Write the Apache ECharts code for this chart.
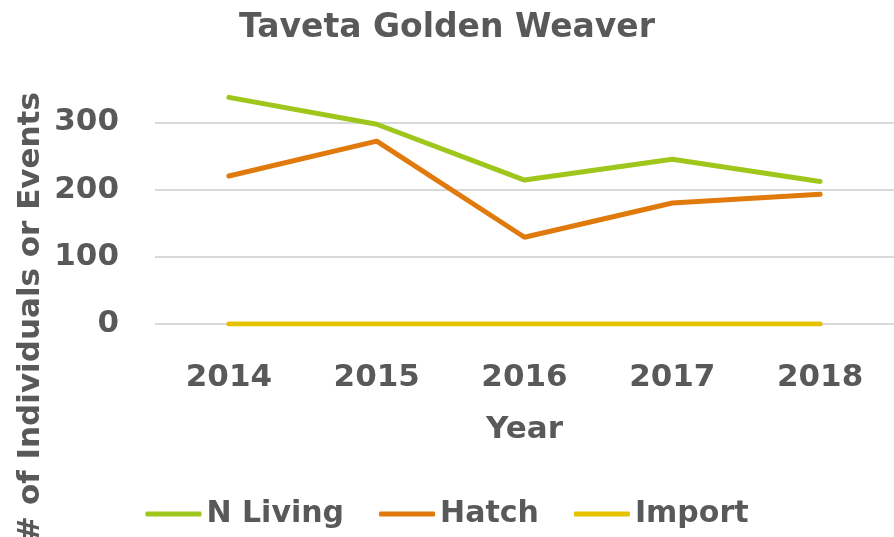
<!DOCTYPE html>
<html>
<head>
<meta charset="utf-8">
<script src="https://cdn.jsdelivr.net/npm/echarts@6/dist/echarts.min.js"></script>
<style>
  html, body { margin: 0; padding: 0; background: #fff; }
  #main { width: 894px; height: 537px; }
</style>
</head>
<body>
<div id="main"></div>
<script>
// data
const years = ["2014", "2015", "2016", "2017", "2018"];
const nLiving = [337, 297, 214, 245, 212];
const hatch = [220, 272, 129, 180, 193];
const importCnt = [0, 0, 0, 0, 0];

const textColor = "#595959";
const font = "DejaVu Sans";

let myChart = echarts.init(document.getElementById("main"));

let option = {
  animation: false,
  color: ["#9fc61b", "#e07a0c", "#e5c100"],
  title: {
    text: "Taveta Golden Weaver",
    left: "center",
    top: 7,
    textStyle: {
      fontFamily: font,
      fontSize: 33,
      fontWeight: "bold",
      color: textColor,
    },
  },
  grid: {
    left: 155,
    top: 55,
    width: 746,
    height: 269,
  },
  legend: {
    left: "center",
    top: 494,
    icon: "roundRect",
    itemWidth: 56,
    itemHeight: 5,
    itemGap: 35,
    textStyle: {
      fontFamily: font,
      fontSize: 30,
      fontWeight: "bold",
      color: textColor,
    },
    data: ["N Living", "Hatch", "Import"],
  },
  // y axis title drawn separately so it can sit lower than the grid middle
  graphic: [
    {
      type: "text",
      x: 31,
      y: 317,
      rotation: Math.PI / 2,
      style: {
        text: "# of Individuals or Events",
        fontFamily: font,
        fontSize: 31,
        fontWeight: "bold",
        fill: textColor,
        align: "center",
        verticalAlign: "middle",
      },
    },
  ],
  xAxis: {
    type: "category",
    data: years,
    boundaryGap: true,
    axisLine: { show: false },
    axisTick: { show: false },
    axisLabel: {
      margin: 38,
      fontFamily: font,
      fontSize: 31,
      fontWeight: "bold",
      color: textColor,
    },
    name: "Year",
    nameLocation: "middle",
    nameGap: 90,
    nameTextStyle: {
      fontFamily: font,
      fontSize: 31,
      fontWeight: "bold",
      color: textColor,
    },
  },
  yAxis: {
    type: "value",
    min: 0,
    max: 400,
    interval: 100,
    axisLine: { show: false },
    axisTick: { show: false },
    axisLabel: {
      showMaxLabel: false,
      margin: 36,
      fontFamily: font,
      fontSize: 31,
      fontWeight: "bold",
      color: textColor,
    },
    splitLine: {
      lineStyle: {
        color: ["#d9d9d9", "#d9d9d9", "#d9d9d9", "#d9d9d9", "rgba(0,0,0,0)"],
        width: 2,
      },
    },
  },
  series: [
    {
      name: "N Living",
      type: "line",
      symbol: "none",
      lineStyle: { width: 5, cap: "round" },
      data: nLiving,
    },
    {
      name: "Hatch",
      type: "line",
      symbol: "none",
      lineStyle: { width: 5, cap: "round" },
      data: hatch,
    },
    {
      name: "Import",
      type: "line",
      symbol: "none",
      lineStyle: { width: 5, cap: "round" },
      data: importCnt,
    },
  ],
};
myChart.setOption(option);
</script>
</body>
</html>
